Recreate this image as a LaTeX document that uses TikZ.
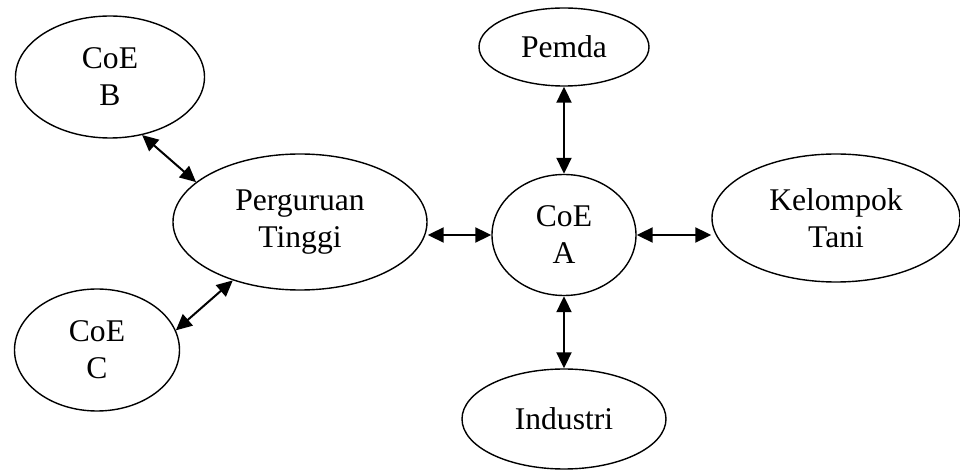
\documentclass[tikz,border=0pt]{standalone}
\usepackage{fontspec}
\setmainfont{Liberation Serif}
\usetikzlibrary{shapes.geometric,arrows.meta}

\tikzset{
  blob/.style={draw=black, line width=0.7pt, ellipse, inner sep=0pt, align=center,
    font=\fontsize{15.8}{18.5}\selectfont},
  link/.style={line width=1pt, {Triangle[length=8pt,width=7.5pt]}-{Triangle[length=8pt,width=7.5pt]}}
}

\begin{document}
\begin{tikzpicture}[x=0.5pt, y=-0.5pt]

  % Bildrahmen (960 x 470 px)
  \useasboundingbox (0,0) rectangle (960,470);

  % Knoten (Mittelpunkt, Breite, Hoehe in px)
  \node[blob, minimum width=189pt/2, minimum height=122pt/2] (coeb) at (110,77) {CoE\\B};
  \node[blob, minimum width=165pt/2, minimum height=122pt/2] (coec) at (97,350) {CoE\\C};
  \node[blob, minimum width=254pt/2, minimum height=136pt/2] (pt) at (300,222) {Perguruan\\Tinggi};
  \node[blob, minimum width=144pt/2, minimum height=121pt/2] (coea) at (564,235) {CoE\\A};
  \node[blob, minimum width=170pt/2, minimum height=78pt/2] (pemda) at (564,47) {Pemda};
  \node[blob, minimum width=248pt/2, minimum height=128pt/2] (tani) at (836,218) {Kelompok\\Tani};
  \node[blob, minimum width=204pt/2, minimum height=100pt/2] (industri) at (564,419) {Industri};

  % Verbindungen (beidseitig)
  \draw[link] (coeb.-61) -- (pt.159);
  \draw[link] (coec.14) -- (pt.221);
  \draw[link] (pt.east |- coea.west) -- (coea.west);
  \draw[link] (coea.east) -- (coea.east -| tani.west);
  \draw[link] (pemda) -- (coea);
  \draw[link] (coea) -- (industri);

\end{tikzpicture}
\end{document}
